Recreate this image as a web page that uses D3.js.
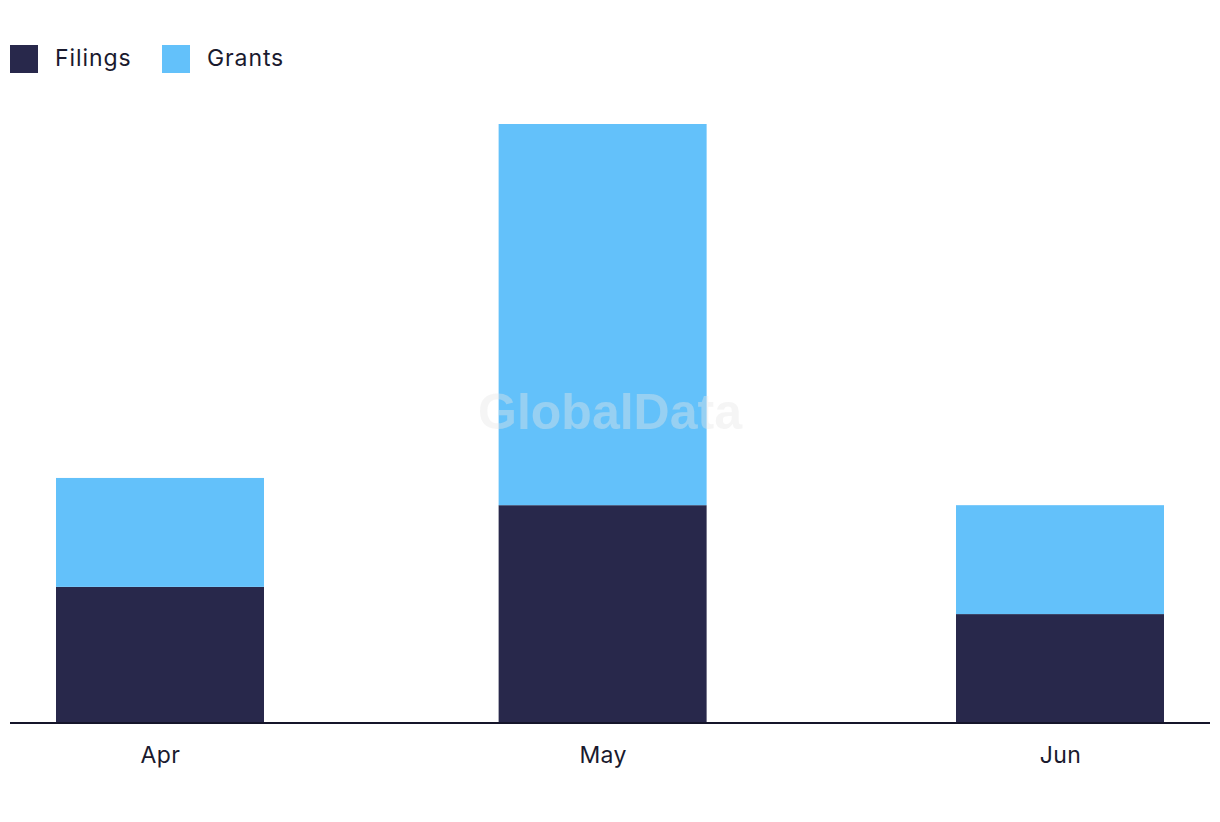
<!DOCTYPE html>
<html><head><meta charset="utf-8">
<script src="https://cdn.jsdelivr.net/npm/d3@7"></script>
<style>html,body{margin:0;padding:0;background:#fff;}svg{display:block;}</style>
</head><body>
<svg id="c" width="1220" height="822"></svg>
<script>
const months = ["2023-04-01","2023-05-01","2023-06-01"];
const monthLabels = ["Apr","May","Jun"];
const filings = [5, 8, 4];
const grants = [4, 14, 4];
const seriesNames = ["Filings","Grants"];
const colors = ["#28284b","#63c1fa"];

const svg = d3.select("#c");
const baseY = 723;
const dates = months.map(d => new Date(d + "T00:00:00Z"));
const x = d3.scaleUtc().domain([dates[0], dates[2]]).range([160, 1060]);
const y = d3.scaleLinear().domain([0, 22]).range([baseY, 124]);
const barW = 208;

const rows = dates.map((d,i)=>({date:d, Filings:filings[i], Grants:grants[i]}));
const stack = d3.stack().keys(seriesNames)(rows);

svg.append("g").selectAll("g").data(stack).join("g")
  .attr("fill",(d,i)=>colors[i])
  .selectAll("rect").data(d=>d).join("rect")
  .attr("x", d=>x(d.data.date)-barW/2)
  .attr("width", barW)
  .attr("y", d=>y(d[1]))
  .attr("height", d=>y(d[0])-y(d[1]));

// watermark
svg.append("text").attr("x",610).attr("y",429).attr("text-anchor","middle")
  .attr("font-family","Liberation Sans, Arial, sans-serif").attr("font-weight","bold")
  .attr("font-size",50).attr("fill","#e6e6e6").attr("fill-opacity",0.4).text("GlobalData");

// axis
const xAxis = d3.axisBottom(x).tickValues(dates).tickSize(0).tickPadding(0)
  .tickFormat((d,i)=>monthLabels[i]);
const ax = svg.append("g").attr("transform",`translate(0,${baseY})`).call(xAxis);
ax.select(".domain").remove();
ax.selectAll("text").attr("dy",null).attr("y",40)
  .attr("font-family","Inter, sans-serif").attr("font-size",23).attr("letter-spacing","0.4px").attr("fill","#1a1a2e");
svg.append("line").attr("x1",10).attr("x2",1210).attr("y1",baseY).attr("y2",baseY)
  .attr("stroke","#15152a").attr("stroke-width",2);

// legend
const leg = svg.append("g");
const legX = [10, 162];
seriesNames.forEach((n,i)=>{
  leg.append("rect").attr("x",legX[i]).attr("y",45).attr("width",28).attr("height",28).attr("fill",colors[i]);
  leg.append("text").attr("x",legX[i]+45).attr("y",66).attr("font-family","Inter, sans-serif")
    .attr("font-size",23).attr("letter-spacing","0.9px").attr("fill","#1a1a2e").text(n);
});
</script>
</body></html>
